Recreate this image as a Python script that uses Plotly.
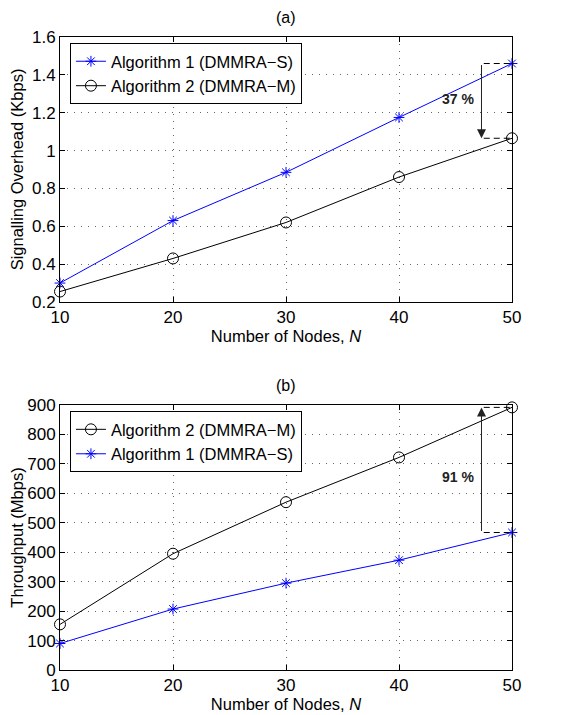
import plotly.graph_objects as go
from plotly.subplots import make_subplots

nodes = [10, 20, 30, 40, 50]
overhead_alg1 = [0.30, 0.63, 0.885, 1.175, 1.46]
overhead_alg2 = [0.255, 0.43, 0.62, 0.86, 1.065]
throughput_alg2 = [155, 395, 570, 722, 892]
throughput_alg1 = [90, 207, 295, 373, 467]

name1 = "Algorithm 1 (DMMRA\u2212S)"
name2 = "Algorithm 2 (DMMRA\u2212M)"
FONT = "Liberation Sans, Arial, sans-serif"

fig = make_subplots(rows=2, cols=1, vertical_spacing=0.1628)

s1 = dict(mode="lines+markers", line=dict(color="#0000ff", width=1),
          marker=dict(symbol="asterisk-open", size=9, color="#0000ff", line=dict(color="#0000ff", width=1)),
          cliponaxis=False)
s2 = dict(mode="lines+markers", line=dict(color="black", width=1),
          marker=dict(symbol="circle-open", size=11, color="black", line=dict(color="black", width=1)),
          cliponaxis=False)

fig.add_trace(go.Scatter(x=nodes, y=overhead_alg1, name=name1, legend="legend", **s1), row=1, col=1)
fig.add_trace(go.Scatter(x=nodes, y=overhead_alg2, name=name2, legend="legend", **s2), row=1, col=1)
fig.add_trace(go.Scatter(x=nodes, y=throughput_alg2, name=name2, legend="legend2", **s2), row=2, col=1)
fig.add_trace(go.Scatter(x=nodes, y=throughput_alg1, name=name1, legend="legend2", **s1), row=2, col=1)

axis_common = dict(showline=True, linecolor="black", linewidth=1, mirror="allticks",
                   ticks="inside", ticklen=5, tickcolor="black", automargin=False,
                   showgrid=True, gridcolor="#666666", griddash="1px,6px", gridwidth=1,
                   zeroline=False, tickfont=dict(size=17, color="black", family=FONT))

for r in (1, 2):
    fig.update_xaxes(range=[10, 50], dtick=10, tick0=10, row=r, col=1,
                     title=dict(text="Number of Nodes, <i>N</i>", font=dict(size=16.5, color="black", family=FONT), standoff=0),
                     **axis_common)
fig.update_yaxes(range=[0.2, 1.6], dtick=0.2, tick0=0.2, row=1, col=1,
                 title=dict(text="Signalling Overhead (Kbps)", font=dict(size=16.5, color="black", family=FONT), standoff=4),
                 **axis_common)
fig.update_yaxes(range=[0, 900], dtick=100, tick0=0, row=2, col=1,
                 title=dict(text="Throughput (Mbps)", font=dict(size=16.5, color="black", family=FONT), standoff=4),
                 **axis_common)

arrow_x = 47.3
dash_x0 = 47.5
for (xr, yr, hi, lo, up, label, ty) in [
    ("x", "y", overhead_alg1[-1], overhead_alg2[-1], False, "37 %", 1.27),
    ("x2", "y2", throughput_alg2[-1], throughput_alg1[-1], True, "91 %", 655),
]:
    for yv in (hi, lo):
        fig.add_shape(type="line", xref=xr, yref=yr, x0=dash_x0, x1=nodes[-1], y0=yv, y1=yv,
                      line=dict(color="black", width=1, dash="6px,4px"))
    head, tail = (hi, lo) if up else (lo, hi)
    fig.add_annotation(xref=xr, yref=yr, axref=xr, ayref=yr, x=arrow_x, y=head, ax=arrow_x, ay=tail,
                       showarrow=True, arrowhead=2, arrowsize=1.8, arrowwidth=1, arrowcolor="#222222", text="")
    fig.add_annotation(xref=xr, yref=yr, x=45.2, y=ty, text="<b>" + label + "</b>", showarrow=False,
                       font=dict(size=14, color="#222222", family=FONT))

fig.add_annotation(xref="paper", yref="paper", x=0.5, y=1.0, yshift=20, yanchor="middle", text="(a)",
                   showarrow=False, font=dict(size=16, color="black", family=FONT))
fig.add_annotation(xref="paper", yref="paper", x=0.5, y=0.4186, yshift=20, yanchor="middle", text="(b)",
                   showarrow=False, font=dict(size=16, color="black", family=FONT))

legend_common = dict(bgcolor="white", bordercolor="black", borderwidth=1,
                     font=dict(size=16.5, color="black", family=FONT),
                     xanchor="left", yanchor="top", tracegroupgap=0,
                     entrywidth=200, entrywidthmode="pixels")
fig.update_layout(
    width=564, height=707,
    margin=dict(l=52, r=60, t=29, b=45, autoexpand=False),
    plot_bgcolor="white", paper_bgcolor="white",
    legend=dict(x=0.022, y=0.9905, **legend_common),
    legend2=dict(x=0.022, y=0.409, **legend_common),
    showlegend=True,
)

fig.write_html("out.html")
